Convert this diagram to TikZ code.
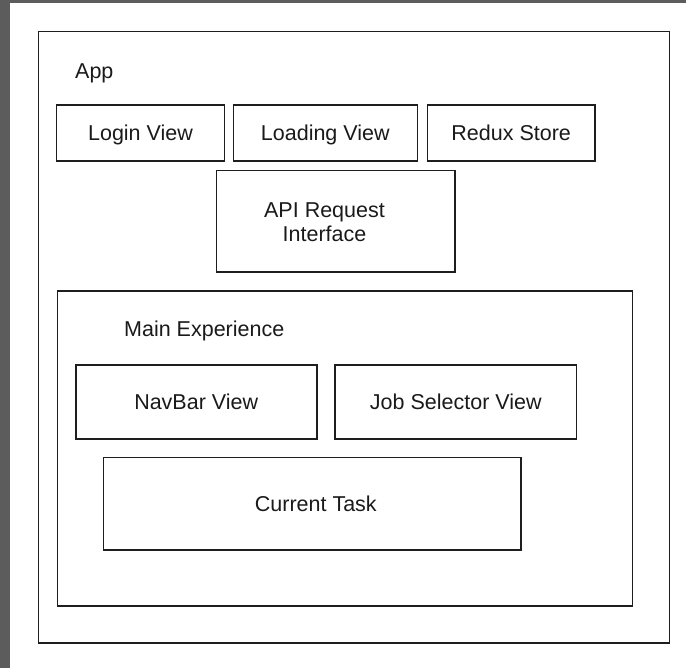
\documentclass[tikz,border=0pt]{standalone}
\usepackage{fontspec}
\setmainfont{Liberation Sans}
\definecolor{bggray}{HTML}{5C5C5C}
\definecolor{linec}{HTML}{1E1E1E}
\definecolor{textc}{HTML}{1A1A1A}
\begin{document}
\begin{tikzpicture}[x=1pt,y=-1pt,
  box/.style={draw=linec, line width=1.6pt, rectangle, inner sep=0pt},
  lbl/.style={font=\fontsize{21.5}{23.5}\selectfont, text=textc, text height=15.4pt, text depth=0pt, inner sep=0pt, align=center}]
\useasboundingbox (0,0) rectangle (686,668);
\fill[bggray] (0,0) rectangle (686,668);
\fill[white] (10,3) rectangle (686,668);
% outer App box
\node[box, minimum width=630.8pt, minimum height=611pt] (app) at (353.9,337.2) {};
\node[lbl, anchor=west] (applbl) at (75,70.5) {App};
% top row
\node[box, lbl, minimum width=168pt, minimum height=56pt] (login) at (140.5,133) {Login View};
\node[box, lbl, minimum width=184pt, minimum height=56pt] (loading) at (325.3,133) {Loading View};
\node[box, lbl, minimum width=167.7pt, minimum height=56pt] (redux) at (511.2,133) {Redux Store};
% API
\node[box, minimum width=238.3pt, minimum height=101.3pt] (api) at (335.8,221.3) {};
\node[lbl] (apilbl) at (324.5,233.4) {API Request\\Interface};
% Main experience
\node[box, minimum width=575pt, minimum height=315pt] (main) at (344.8,448.5) {};
\node[lbl, anchor=west] (mainlbl) at (124,329) {Main Experience};
\node[box, lbl, minimum width=241pt, minimum height=74pt] (navbar) at (196.2,402) {NavBar View};
\node[box, lbl, minimum width=241.7pt, minimum height=74.3pt] (job) at (455.8,402.1) {Job Selector View};
\node[box, minimum width=417.7pt, minimum height=92.7pt] (current) at (312.2,503.7) {};
\node[lbl] (currentlbl) at (315.8,503.4) {Current Task};
\end{tikzpicture}
\end{document}
